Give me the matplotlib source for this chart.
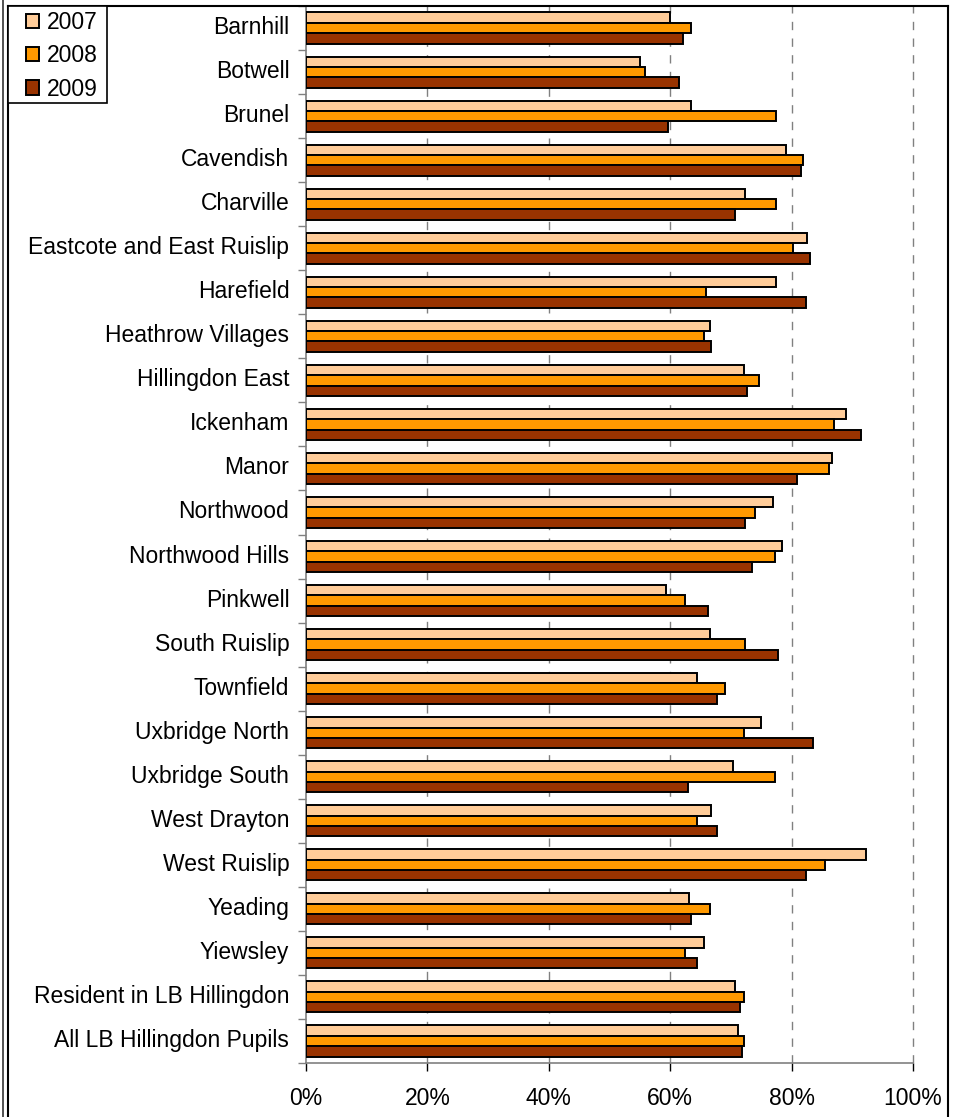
import matplotlib
matplotlib.use("Agg")
import matplotlib.pyplot as plt
import numpy as np
from matplotlib.lines import Line2D
from matplotlib.patches import Rectangle
from matplotlib.ticker import FixedLocator, FuncFormatter
from matplotlib.transforms import ScaledTranslation

W, H = 955, 1117

wards = [
    "Barnhill", "Botwell", "Brunel", "Cavendish", "Charville",
    "Eastcote and East Ruislip", "Harefield", "Heathrow Villages",
    "Hillingdon East", "Ickenham", "Manor", "Northwood", "Northwood Hills",
    "Pinkwell", "South Ruislip", "Townfield", "Uxbridge North",
    "Uxbridge South", "West Drayton", "West Ruislip", "Yeading", "Yiewsley",
    "Resident in LB Hillingdon", "All LB Hillingdon Pupils",
]
years = ["2007", "2008", "2009"]

# percentage of pupils
pct_2007 = [60.0, 55.0, 63.4, 79.0, 72.4, 82.6, 77.5, 66.5, 72.2, 88.9,
            86.6, 76.9, 78.5, 59.3, 66.5, 64.4, 74.9, 70.3, 66.8, 92.3,
            63.1, 65.6, 70.6, 71.2]
pct_2008 = [63.4, 55.9, 77.5, 81.8, 77.5, 80.2, 65.9, 65.6, 74.6, 87.0,
            86.2, 74.0, 77.2, 62.5, 72.4, 69.0, 72.1, 77.2, 64.4, 85.5,
            66.5, 62.5, 72.1, 72.1]
pct_2009 = [62.1, 61.5, 59.7, 81.5, 70.6, 83.0, 82.4, 66.8, 72.7, 91.4,
            80.9, 72.4, 73.4, 66.2, 77.7, 67.7, 83.6, 62.9, 67.7, 82.4,
            63.4, 64.4, 71.5, 71.8]

colors = ["#FFCC99", "#FF9900", "#993300"]

plt.rcParams["font.family"] = ["Liberation Sans", "DejaVu Sans"]
FS = 16.5

fig = plt.figure(figsize=(W / 100, H / 100), dpi=100)
fig.patch.set_facecolor("white")

# plot area in pixels: x 306..913, y 6..1063
left, right, top, bottom = 306, 913, 6, 1063
ax = fig.add_axes([left / W, 1 - bottom / H, (right - left) / W, (bottom - top) / H])

y = np.arange(len(wards))
h = 0.235
for k, (vals, c, lab) in enumerate(zip([pct_2007, pct_2008, pct_2009], colors, years)):
    ax.barh(y + (k - 1) * h, np.array(vals) / 100, height=h, color=c,
            edgecolor="black", linewidth=1.4, label=lab, zorder=3)

ax.set_xlim(0, 1)
ax.set_ylim(len(wards) - 0.5, -0.5)

ax.xaxis.set_major_locator(FixedLocator(np.linspace(0, 1, 6)))
ax.xaxis.set_major_formatter(FuncFormatter(lambda v, p: f"{v * 100:.0f}%"))
ax.tick_params(axis="x", length=6, width=1, color="black", pad=11, labelsize=FS)

ax.yaxis.set_major_locator(FixedLocator(np.arange(len(wards) + 1) - 0.5))
ax.yaxis.set_major_formatter(FuncFormatter(lambda v, p: ""))
ax.yaxis.set_minor_locator(FixedLocator(y))
ax.set_yticklabels(wards, minor=True)
ax.tick_params(axis="y", which="major", length=6, width=1, color="#808080")
ax.tick_params(axis="y", which="minor", length=0, pad=12, labelsize=FS)
shift = ScaledTranslation(0, 3 / 100, fig.dpi_scale_trans)
for lbl in ax.get_yticklabels(minor=True):
    lbl.set_transform(lbl.get_transform() + shift)

for xv in np.linspace(0.2, 1.0, 5):
    ax.axvline(xv, color="#808080", linewidth=1, linestyle=(0, (6, 6)),
               zorder=1, clip_on=False)

for s in ["top", "right"]:
    ax.spines[s].set_visible(False)
for s in ["left", "bottom"]:
    ax.spines[s].set_color("#808080")
    ax.spines[s].set_linewidth(1.2)

# chart area border
def px_line(xs, ys, **kw):
    fig.add_artist(Line2D([v / W for v in xs], [1 - v / H for v in ys],
                          transform=fig.transFigure, **kw))

px_line([8, 948], [6, 6], color="black", linewidth=1.5)
px_line([8, 8], [6, H], color="black", linewidth=1.5)
px_line([948, 948], [6, H], color="black", linewidth=1.5)
px_line([3, 3], [0, H], color="#333333", linewidth=1.2)

# legend box drawn separately so the padding matches
fig.add_artist(Rectangle((8 / W, 1 - 103 / H), 99 / W, 97 / H,
                         transform=fig.transFigure, facecolor="white",
                         edgecolor="black", linewidth=1.2, zorder=4))
leg = fig.legend(loc="upper left", bbox_to_anchor=(26 / W, 1 - 11 / H),
                 bbox_transform=fig.transFigure, fontsize=FS, frameon=False,
                 borderaxespad=0, borderpad=0, handlelength=0.57,
                 handleheight=0.57, handletextpad=0.35, labelspacing=0.45)
leg.set_zorder(5)

fig.savefig("out.png", dpi=100)
